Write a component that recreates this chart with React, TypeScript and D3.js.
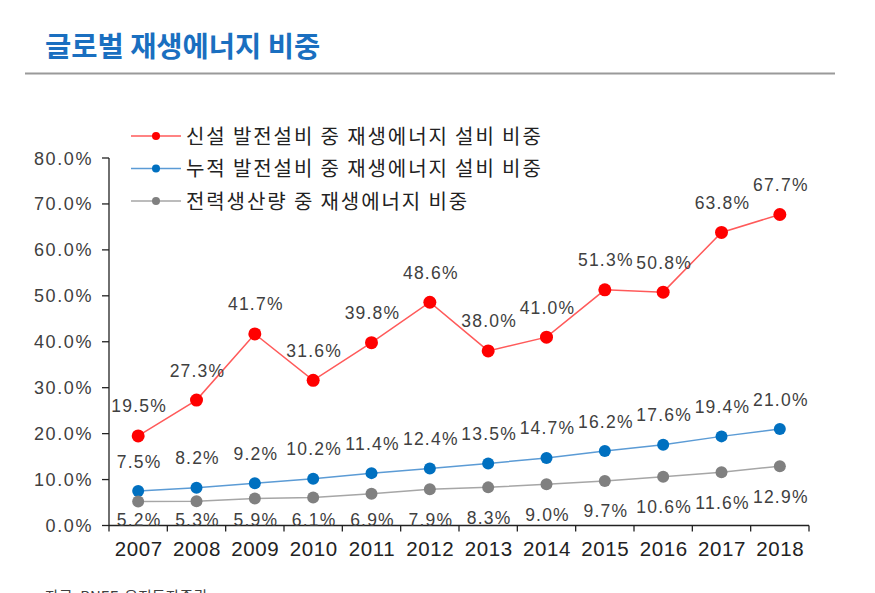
import React from "react";
import * as d3 from "d3";

const years = ["2007","2008","2009","2010","2011","2012","2013","2014","2015","2016","2017","2018"];
const newShare = [19.5, 27.3, 41.7, 31.6, 39.8, 48.6, 38.0, 41.0, 51.3, 50.8, 63.8, 67.7];
const cumShare = [7.5, 8.2, 9.2, 10.2, 11.4, 12.4, 13.5, 14.7, 16.2, 17.6, 19.4, 21.0];
const genShare = [5.2, 5.3, 5.9, 6.1, 6.9, 7.9, 8.3, 9.0, 9.7, 10.6, 11.6, 12.9];
const yTicks = [0, 10, 20, 30, 40, 50, 60, 70, 80];
const seriesNames = [
  "신설 발전설비 중 재생에너지 설비 비중",
  "누적 발전설비 중 재생에너지 설비 비중",
  "전력생산량 중 재생에너지 비중",
];

const W = 875, H = 593;
const left = 109, right = 809, top = 158, bottom = 525.5;
const latin = "'Liberation Sans', Arial, sans-serif";
const kor = "'Noto Sans CJK KR', 'Noto Sans', sans-serif";

export default function App() {
  const x = d3.scaleBand().domain(years).range([left, right]);
  const y = d3.scaleLinear().domain([0, 80]).range([bottom, top]);
  const cx = (i: number) => (x(years[i]) as number) + x.bandwidth() / 2;
  const line = d3.line<number>().x((_, i) => cx(i)).y((d) => y(d));

  const series = [
    { data: newShare, lineColor: "#FF5A5A", dotColor: "#FF0000", r: 6.5, pos: "above" },
    { data: cumShare, lineColor: "#5B9BD5", dotColor: "#0070C0", r: 6, pos: "above" },
    { data: genShare, lineColor: "#A6A6A6", dotColor: "#808080", r: 6, pos: "below" },
  ];

  const boundaries = years.map((yr) => x(yr) as number).concat([right]);

  return (
    <svg width={W} height={H} style={{ position: "absolute", left: 0, top: 0, background: "#fff" }}>
      <rect x={0} y={0} width={W} height={H} fill="#fff" />
      <text x={45} y={57} fontFamily={kor} fontWeight={700} fontSize={28.5} fill="#1A6FC0">
        글로벌 재생에너지 비중
      </text>
      <line x1={25} x2={835} y1={73.5} y2={73.5} stroke="#9A9A9A" strokeWidth={2} />

      {/* axes */}
      <line x1={left} x2={left} y1={top} y2={bottom} stroke="#222" strokeWidth={1.3} />
      <line x1={left} x2={right} y1={bottom} y2={bottom} stroke="#222" strokeWidth={1.3} />
      {yTicks.map((t) => (
        <g key={t}>
          <line x1={left - 7} x2={left} y1={y(t)} y2={y(t)} stroke="#222" strokeWidth={1.3} />
          <text x={93} y={y(t) + 6.5} textAnchor="end" fontFamily={latin} fontSize={18}
            letterSpacing={1.6} fill="#404040">{t.toFixed(1)}%</text>
        </g>
      ))}
      {boundaries.map((b, i) => (
        <line key={i} x1={b} x2={b} y1={bottom} y2={bottom + 6} stroke="#222" strokeWidth={1.3} />
      ))}
      {years.map((yr, i) => (
        <text key={yr} x={cx(i) + 0.5} y={556} textAnchor="middle" fontFamily={latin} fontSize={20.5}
          letterSpacing={0.6} fill="#222">{yr}</text>
      ))}

      {/* series */}
      {series.map((s, si) => (
        <g key={si}>
          <path d={line(s.data) || ""} fill="none" stroke={s.lineColor} strokeWidth={1.5} />
          {s.data.map((v, i) => (
            <circle key={i} cx={cx(i)} cy={y(v)} r={s.r} fill={s.dotColor} />
          ))}
        </g>
      ))}
      {series.map((s, si) => (
        <g key={"l" + si}>
          {s.data.map((v, i) => {
            const cy = s.pos === "above" ? y(v) - 30 : Math.min(y(v) + 30, 519);
            return (
              <text key={i} x={cx(i) + 1} y={cy + 6.5} textAnchor="middle" fontFamily={latin}
                fontSize={17.5} letterSpacing={1.2} fill="#404040">{v.toFixed(1)}%</text>
            );
          })}
        </g>
      ))}

      {/* legend */}
      {series.map((s, si) => {
        const ly = 136 + si * 32.5;
        return (
          <g key={"lg" + si}>
            <line x1={131} x2={181} y1={ly} y2={ly} stroke={s.lineColor} strokeWidth={1.6} />
            <circle cx={156} cy={ly} r={4} fill={s.dotColor} />
            <text x={186} y={ly + 7.5} fontFamily={kor} fontSize={20} letterSpacing={1.9} fill="#222">
              {seriesNames[si]}
            </text>
          </g>
        );
      })}

      <text x={45} y={602} fontFamily={kor} fontSize={15} fill="#404040">자료: BNEF, 유진투자증권</text>
    </svg>
  );
}
